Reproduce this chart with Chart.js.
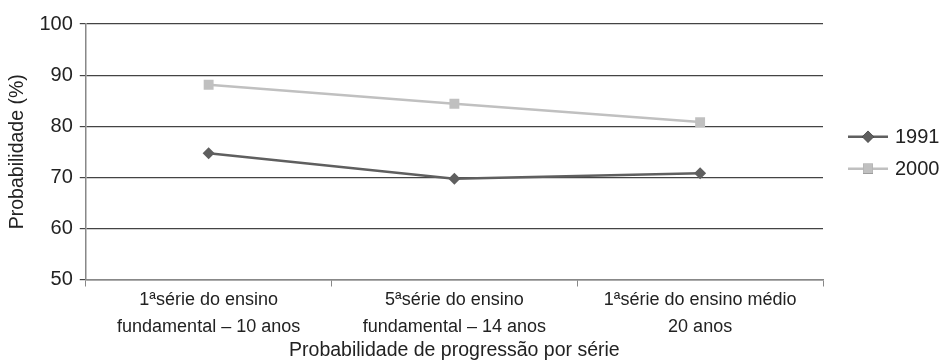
<!DOCTYPE html>
<html>
<head>
<meta charset="utf-8">
<script src="https://cdn.jsdelivr.net/npm/chart.js@4"></script>
<style>
  html, body { margin: 0; padding: 0; background: #fff; }
  #wrap { width: 941px; height: 360px; }
</style>
</head>
<body>
<div id="wrap"><canvas id="probChart"></canvas></div>
<script>
const categories = [
    ['1ªsérie do ensino', 'fundamental – 10 anos'],
    ['5ªsérie do ensino', 'fundamental – 14 anos'],
    ['1ªsérie do ensino médio', '20 anos']
];
const values1991 = [74.7, 69.7, 70.8];
const values2000 = [88.1, 84.4, 80.8];
const yTicks = [50, 60, 70, 80, 90, 100];

const font = 'Liberation Sans, Arial, sans-serif';

// legend drawn as line + marker, like the original
const sideLegend = {
    id: 'sideLegend',
    afterDraw(chart) {
        const ctx = chart.ctx;
        const area = chart.chartArea;
        const mid = (area.top + area.bottom) / 2 + 1;
        chart.data.datasets.forEach((ds, i) => {
            const y = mid - 16 + i * 32;
            const x0 = area.right + 25;
            ctx.save();
            ctx.strokeStyle = ds.borderColor;
            ctx.lineWidth = 2.5;
            ctx.beginPath();
            ctx.moveTo(x0, y);
            ctx.lineTo(x0 + 40, y);
            ctx.stroke();
            Chart.helpers.drawPoint(ctx, {
                pointStyle: ds.pointStyle,
                radius: ds.pointRadius,
                borderWidth: 0
            }, x0 + 20, y);
            ctx.fillStyle = ds.borderColor;
            ctx.fill();
            ctx.fillStyle = '#222';
            ctx.font = '20px ' + font;
            ctx.textBaseline = 'middle';
            ctx.fillText(ds.label, x0 + 47, y + 1);
            ctx.restore();
        });
    }
};

new Chart(document.getElementById('probChart'), {
    type: 'line',
    data: {
        labels: categories,
        datasets: [{
            label: '1991',
            data: values1991,
            borderColor: '#5f5f5f',
            backgroundColor: '#5f5f5f',
            borderWidth: 2.5,
            pointStyle: 'rectRot',
            pointRadius: 6,
            pointBorderWidth: 0,
            tension: 0
        }, {
            label: '2000',
            data: values2000,
            borderColor: '#c0c0c0',
            backgroundColor: '#c0c0c0',
            borderWidth: 2.5,
            pointStyle: 'rect',
            pointRadius: 7,
            pointBorderWidth: 0,
            tension: 0
        }]
    },
    options: {
        responsive: true,
        maintainAspectRatio: false,
        animation: false,
        layout: { padding: { top: 24, right: 118, left: 4, bottom: 0 } },
        plugins: {
            legend: { display: false },
            tooltip: { enabled: false }
        },
        scales: {
            x: {
                offset: true,
                grid: { offset: true, drawOnChartArea: false, drawTicks: true, tickLength: 7, color: '#888' },
                border: { color: '#888', width: 1.5 },
                ticks: { color: '#222', font: { family: font, size: 18, lineHeight: 1.5 }, maxRotation: 0, padding: 0 },
                title: { display: true, text: 'Probabilidade de progressão por série', color: '#222', font: { family: font, size: 19.5, lineHeight: 1.0 }, padding: 0 }
            },
            y: {
                min: 50,
                max: 100,
                afterBuildTicks(axis) { axis.ticks = yTicks.map(v => ({ value: v })); },
                grid: { color: '#444', lineWidth: 1.2, tickLength: 6 },
                border: { color: '#888', width: 1.5 },
                ticks: { color: '#222', font: { family: font, size: 20 }, padding: 7 },
                title: { display: true, text: 'Probabilidade (%)', color: '#222', font: { family: font, size: 19.5 }, padding: { top: 2, bottom: 3 } }
            }
        }
    },
    plugins: [sideLegend]
});
</script>
</body>
</html>
